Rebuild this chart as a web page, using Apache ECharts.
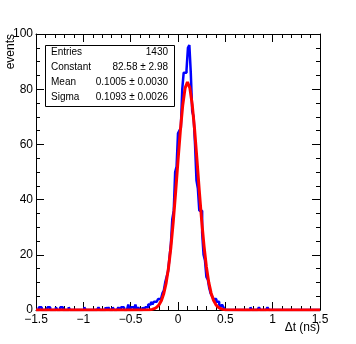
<!DOCTYPE html>
<html>
<head>
<meta charset="utf-8">
<script src="https://cdn.jsdelivr.net/npm/echarts@6/dist/echarts.min.js"></script>
<style>
  html, body { margin: 0; padding: 0; background: #fff; }
  #chart { width: 356px; height: 344px; }
</style>
</head>
<body>
<div id="chart"></div>
<script>
// histogram: 200 bins of 0.015 ns from -1.5 to 1.5
const xMin = -1.5;
const binWidth = 0.015;
const counts = [
  0, 0, 1, 1, 0, 0, 0, 0, 1, 1, 0, 0, 0, 0, 1, 0, 0, 1, 1, 0,
  0, 0, 0, 1, 0, 0, 0, 0, 0, 0, 0, 0, 0, 0, 1, 0, 0, 0, 0, 0,
  0, 0, 0, 0, 1, 0, 0, 0, 0, 1, 0, 1, 0, 0, 1, 0, 0, 0, 1, 0,
  1, 1, 0, 0, 0, 2, 0, 1, 1, 0, 2, 0, 1, 0, 0, 1, 0, 1, 1, 2,
  2, 3, 2, 3, 3, 3, 4, 4, 4, 6, 7, 10, 12, 14, 19, 24, 33, 36, 50, 52,
  64, 65, 66, 80, 86, 86, 87, 95, 96, 86, 72, 70, 60, 47, 44, 36, 36, 28, 20, 18,
  12, 11, 8, 6, 5, 4, 4, 3, 3, 2, 1, 2, 1, 0, 0, 0, 0, 0, 0, 0,
  0, 0, 0, 0, 0, 0, 0, 0, 0, 0, 0, 1, 0, 0, 0, 0, 0, 1, 0, 0,
  0, 0, 0, 1, 0, 0, 0, 0, 0, 0, 0, 0, 0, 0, 0, 0, 0, 0, 0, 0,
  0, 0, 0, 0, 0, 0, 0, 0, 0, 0, 0, 0, 0, 0, 0, 0, 0, 0, 0, 0,
];

const fitX = [
  -1.5, -0.5, -0.3, -0.275, -0.25, -0.225, -0.2, -0.175, -0.15, -0.125, -0.1,
  -0.075, -0.05, -0.025, 0, 0.025, 0.05, 0.075, 0.1, 0.125, 0.15, 0.175, 0.2,
  0.225, 0.25, 0.275, 0.3, 0.325, 0.35, 0.375, 0.4, 0.425, 0.45, 0.475, 0.5,
  0.7, 1.5,
];
const fitY = [
  0, 0, 0.1, 0.23, 0.48, 0.98, 1.89, 3.44, 5.98, 9.84, 15.36,
  22.75, 32.0, 42.7, 54.1, 65.0, 74.2, 80.4, 82.6, 80.5, 74.5, 65.5, 54.6,
  43.2, 32.4, 23.1, 15.6, 10.0, 6.1, 3.5, 1.94, 1.0, 0.5, 0.23, 0.1,
  0, 0,
];

const statLabels = ['Entries', 'Constant', 'Mean', 'Sigma'];
const statValues = ['1430', '82.58 ± 2.98', '0.1005 ± 0.0030', '0.1093 ± 0.0026'];

const histData = counts.map((c, i) => [xMin + i * binWidth, c]);
histData.push([xMin + counts.length * binWidth, counts[counts.length - 1]]);

const FONT = '"Liberation Sans", Arial, sans-serif';
const minus = (v) => String(v).replace('-', '\u2212');

function frameAxis(extra) {
  return {
    type: 'value',
    axisLine: { show: true, onZero: false, lineStyle: { color: '#000', width: 1 } },
    axisTick: { show: true, inside: true, length: 8, lineStyle: { color: '#000' } },
    splitLine: { show: false },
    minorSplitLine: { show: false },
    ...extra,
  };
}

const statRows = [];
statLabels.forEach((lab, i) => {
  const y = 53 + i * 15;
  statRows.push({
    type: 'text', left: 51, top: y - 6, z: 11,
    style: { text: lab, font: '10px ' + FONT, fill: '#000' },
  });
  statRows.push({
    type: 'text', right: 356 - 168, top: y - 6, z: 11,
    style: { text: statValues[i], font: '10px ' + FONT, fill: '#000', textAlign: 'right' },
  });
});

const xTicks = { min: -1.5, max: 1.5, interval: 0.5,
  minorTick: { show: true, splitNumber: 5, length: 4, lineStyle: { color: '#000' } } };
const yTicks = { min: 0, max: 100, interval: 20,
  minorTick: { show: true, splitNumber: 4, length: 4, lineStyle: { color: '#000' } } };

const option = {
  backgroundColor: '#fff',
  animation: false,
  grid: { left: 36, right: 36, top: 34, bottom: 34 },
  xAxis: [
    frameAxis({
      ...xTicks, position: 'bottom',
      axisLabel: { margin: 4, color: '#000', fontSize: 12, fontFamily: FONT, formatter: minus },
    }),
    frameAxis({ ...xTicks, position: 'top', axisLabel: { show: false } }),
  ],
  yAxis: [
    frameAxis({
      ...yTicks, position: 'left',
      axisLabel: { margin: 3, color: '#000', fontSize: 12, fontFamily: FONT },
    }),
    frameAxis({ ...yTicks, position: 'right', axisLabel: { show: false } }),
  ],
  series: [
    {
      name: 'hist',
      type: 'line',
      step: 'end',
      data: histData,
      symbol: 'none',
      lineStyle: { color: '#0000ff', width: 2.5 },
      z: 2,
    },
    {
      name: 'fit',
      type: 'line',
      data: fitX.map((x, i) => [x, fitY[i]]),
      symbol: 'none',
      smooth: false,
      lineStyle: { color: '#ff0000', width: 3 },
      z: 3,
    },
  ],
  graphic: [
    {
      type: 'rect', left: 45, top: 45, z: 10,
      shape: { width: 129, height: 61 },
      style: { fill: '#fff', stroke: '#000', lineWidth: 1 },
    },
    ...statRows,
    {
      type: 'text', x: 11, y: 34, rotation: Math.PI / 2,
      style: {
        text: 'events', font: '12px ' + FONT, fill: '#000',
        textAlign: 'right', textVerticalAlign: 'middle',
      },
    },
    {
      type: 'text', right: 36, top: 322,
      style: { text: 'Δt (ns)', font: '12px ' + FONT, fill: '#000', textAlign: 'right' },
    },
  ],
};

const chart = echarts.init(document.getElementById('chart'), null, { renderer: 'canvas' });
chart.setOption(option);
</script>
</body>
</html>
